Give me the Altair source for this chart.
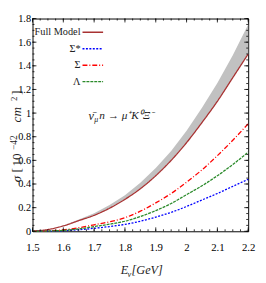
import altair as alt
import pandas as pd

# ---- data ----
energy = [1.5, 1.55, 1.6, 1.65, 1.7, 1.75, 1.8, 1.85, 1.9, 1.95, 2.0, 2.05, 2.1, 2.15, 2.2]
full_model = [0.0, 0.015, 0.045, 0.09, 0.135, 0.195, 0.27, 0.36, 0.47, 0.6, 0.75, 0.92, 1.1, 1.3, 1.5]
band_upper = [0.0, 0.016, 0.049, 0.099, 0.152, 0.222, 0.305, 0.41, 0.535, 0.68, 0.85, 1.045, 1.255, 1.49, 1.75]
sigma_star = [0.0, 0.001, 0.005, 0.013, 0.025, 0.04, 0.058, 0.085, 0.12, 0.16, 0.21, 0.265, 0.32, 0.38, 0.44]
sigma = [0.0, 0.003, 0.012, 0.03, 0.055, 0.08, 0.115, 0.17, 0.24, 0.32, 0.415, 0.52, 0.64, 0.77, 0.91]
lam = [0.0, 0.002, 0.008, 0.02, 0.04, 0.06, 0.085, 0.125, 0.175, 0.235, 0.31, 0.385, 0.47, 0.565, 0.67]

series_names = ["Full Model", "Σ*", "Σ", "Λ"]
series_colors = ["#a83232", "#0000ff", "#ff0000", "#2a8a2a"]
series_dashes = [[1, 0], [2, 1.5], [5, 2, 1, 2], [3, 1]]

x_major = [1.5, 1.6, 1.7, 1.8, 1.9, 2.0, 2.1, 2.2]
x_minor = [round(1.5 + 0.025 * i, 3) for i in range(29)]
y_major = [0, 0.2, 0.4, 0.6, 0.8, 1.0, 1.2, 1.4, 1.6, 1.8]
y_minor = [round(0.05 * i, 3) for i in range(37)]

df = pd.DataFrame({
    "E": energy, "full": full_model, "upper": band_upper,
    "Σ*": sigma_star, "Σ": sigma, "Λ": lam,
})

SERIF = "Liberation Serif"
W, H = 220, 217
MAJ, MIN = 4, 2

xs = alt.Scale(domain=[1.5, 2.2], nice=False, zero=False)
ys = alt.Scale(domain=[0, 1.8], nice=False, zero=False)

x_axis = alt.Axis(values=x_major, format="~g", ticks=False, domain=False, grid=False,
                  title=None, labelFont=SERIF, labelFontSize=11, labelColor="black",
                  labelPadding=11, labelFlush=False)
y_axis = alt.Axis(values=y_major, format="~g", ticks=False, domain=False, grid=False,
                  title=None, labelFont=SERIF, labelFontSize=10.5, labelColor="black",
                  labelPadding=2, labelFlush=False)

base = alt.Chart(df)

band = base.mark_area(color="#c1c1c1").encode(
    x=alt.X("E:Q", scale=xs, axis=x_axis),
    y=alt.Y("upper:Q", scale=ys, axis=y_axis),
    y2="full:Q",
)

cols = ["full", "Σ*", "Σ", "Λ"]
lines = []
for col, color, dash in zip(cols, series_colors, series_dashes):
    lines.append(
        base.mark_line(color=color, strokeDash=dash, strokeWidth=1.3,
                       interpolate="monotone").encode(
            x=alt.X("E:Q", scale=xs, axis=x_axis),
            y=alt.Y(f"{col}:Q", scale=ys, axis=y_axis),
        )
    )

# inward ticks on all four sides (major + minor)
tick_layers = []
for vals, ln in ((x_major, MAJ), (x_minor, MIN)):
    tdf = pd.DataFrame({"v": vals})
    for y0, y1 in ((H, H - ln), (0, ln)):
        tick_layers.append(
            alt.Chart(tdf).mark_rule(color="black", strokeWidth=0.8).encode(
                x=alt.X("v:Q", scale=xs, axis=x_axis),
                y=alt.value(y0), y2=alt.value(y1))
        )
for vals, ln in ((y_major, MAJ), (y_minor, MIN)):
    tdf = pd.DataFrame({"v": vals})
    for x0, x1 in ((0, ln), (W, W - ln)):
        tick_layers.append(
            alt.Chart(tdf).mark_rule(color="black", strokeWidth=0.8).encode(
                y=alt.Y("v:Q", scale=ys, axis=y_axis),
                x=alt.value(x0), x2=alt.value(x1))
        )

# legend (labels to the left of the line samples)
one = pd.DataFrame({"k": [0]})
legend_layers = []
for i, (name, color, dash) in enumerate(zip(series_names, series_colors, series_dashes)):
    yy = 14 + i * 16.8
    legend_layers.append(
        alt.Chart(one).mark_text(font=SERIF, fontSize=10.5, align="right",
                                 baseline="middle", color="#222").encode(
            x=alt.value(49), y=alt.value(yy), text=alt.value(name))
    )
    legend_layers.append(
        alt.Chart(one).mark_rule(color=color, strokeDash=dash, strokeWidth=1.4).encode(
            x=alt.value(51), x2=alt.value(72), y=alt.value(yy))
    )


def txt(s, x, y, size, italic=True, angle=0, align="left", baseline="middle"):
    kw = dict(font=SERIF, fontSize=size, align=align, baseline=baseline,
              color="#222")
    if italic:
        kw["fontStyle"] = "italic"
    if angle:
        kw["angle"] = angle
    return alt.Chart(one).mark_text(**kw).encode(
        x=alt.value(x), y=alt.value(y), text=alt.value(s))


# y-axis title pieces (rotated, reading upward); x is the baseline position
YB, YS = -12, -16
ytitle = [
    txt("σ", YB, 167, 13, angle=270, baseline="alphabetic"),
    txt("[", YB, 157, 13.5, italic=False, angle=270, baseline="alphabetic"),
    txt("10", YB, 151, 13.5, italic=False, angle=270, baseline="alphabetic"),
    txt("−42", YS, 134, 9.5, italic=False, angle=270, baseline="alphabetic"),
    txt("cm", YB, 106, 13.5, angle=270, baseline="alphabetic"),
    txt("2", YS, 84, 9, italic=False, angle=270, baseline="alphabetic"),
    txt("]", YB, 78, 13.5, italic=False, angle=270, baseline="alphabetic"),
]

texts = [
    # reaction annotation
    txt("ν̄", 57, 99, 12.5),
    txt("μ", 63, 104, 8),
    txt("n → μ⁺K⁰Ξ⁻", 68, 99, 11.5),
    # x-axis title
    txt("E", 90, 257, 12.5),
    txt("ν", 97, 261, 8.5),
    txt("[GeV]", 101, 257, 12.5),
] + ytitle

chart = alt.layer(band, *lines, *tick_layers, *legend_layers, *texts).properties(
    width=W, height=H,
    autosize=alt.AutoSizeParams(type="none"),
    padding={"left": 25, "top": 8, "right": 10, "bottom": 50},
).configure_view(stroke="black", strokeWidth=1)

chart.save("out.html", embed_options={"renderer": "svg", "actions": False})
